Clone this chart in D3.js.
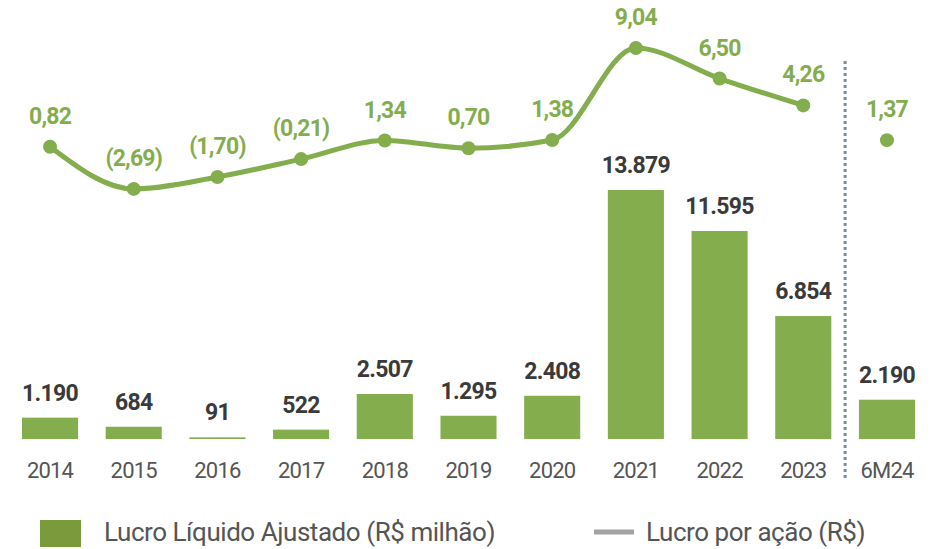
<!DOCTYPE html>
<html>
<head>
<meta charset="utf-8">
<script src="https://cdn.jsdelivr.net/npm/d3@7"></script>
<style>
  body { margin: 0; background: #fff; }
  text { font-family: Roboto, sans-serif; }
</style>
</head>
<body>
<script>
// categories + the two series
var periods = ['2014', '2015', '2016', '2017', '2018', '2019', '2020', '2021', '2022', '2023', '6M24'];
var lucroAjustado = [1190, 684, 91, 522, 2507, 1295, 2408, 13879, 11595, 6854, 2190];
var lucroPorAcao = [0.82, -2.69, -1.70, -0.21, 1.34, 0.70, 1.38, 9.04, 6.50, 4.26, 1.37];

var width = 936;
var height = 549;

var green = '#84ad4e';
var dark = '#3a3a3a';
var gray = '#555';

var svg = d3.select('body')
            .append('svg')
            .attr('width', width)
            .attr('height', height);

var x = d3.scaleBand()
          .domain(periods)
          .range([22, 915])
          .paddingInner(0.33)
          .paddingOuter(0.0);

// bars: baseline ~439, 13.879 reaches ~190
var yBar = d3.scaleLinear()
             .domain([0, 13879])
             .range([439, 190]);

// line: 0 at ~156.6, 12 px per real
var yLine = d3.scaleLinear()
              .domain([0, 9.04])
              .range([156.6, 48]);

var fmtBar = function(v) {
  return d3.format(',')(v).replace(/,/g, '.');
};
var fmtEps = function(v) {
  var s = Math.abs(v).toFixed(2).replace('.', ',');
  return v < 0 ? '(' + s + ')' : s;
};

var rows = periods.map(function(p, i) {
  return {'p': p, 'bar': lucroAjustado[i], 'eps': lucroPorAcao[i], 'i': i};
});

// bars
svg.selectAll('rect.bar')
   .data(rows)
   .enter()
   .append('rect')
   .attr('class', 'bar')
   .attr('x', function(d) { return x(d.p); })
   .attr('width', x.bandwidth())
   .attr('y', function(d) { return Math.min(yBar(d.bar), yBar(0) - 1.5); })
   .attr('height', function(d) { return Math.max(yBar(0) - yBar(d.bar), 1.5); })
   .attr('fill', green);

svg.selectAll('text.barlab')
   .data(rows)
   .enter()
   .append('text')
   .attr('class', 'barlab')
   .attr('x', function(d) { return x(d.p) + x.bandwidth() / 2; })
   .attr('y', function(d) { return Math.min(yBar(d.bar), yBar(0) - 1.5) - 17; })
   .attr('text-anchor', 'middle')
   .attr('font-size', 23)
   .attr('font-weight', 700)
   .attr('letter-spacing', -0.7)
   .attr('fill', dark)
   .text(function(d) { return fmtBar(d.bar); });

// x axis labels
var xAxis = d3.axisBottom(x).tickSize(0).tickPadding(0);
var gx = svg.append('g')
            .attr('transform', 'translate(0,' + 478 + ')')
            .call(xAxis);
gx.select('.domain').remove();
gx.selectAll('text')
  .attr('font-size', 22)
  .attr('letter-spacing', -0.8)
  .attr('fill', gray)
  .attr('dy', 0)
  .style('font-family', 'Roboto, sans-serif');

// separator before 6M24
var sepX = (x('2023') + x.bandwidth() + x('6M24')) / 2;
svg.append('line')
   .attr('x1', sepX).attr('x2', sepX)
   .attr('y1', 61).attr('y2', 480)
   .attr('stroke', '#7b8c9a')
   .attr('stroke-width', 3)
   .attr('stroke-dasharray', '3,3');

// EPS line, only full years
var cx = function(d) { return x(d.p) + x.bandwidth() / 2; };
var line = d3.line()
             .x(cx)
             .y(function(d) { return yLine(d.eps); })
             .curve(d3.curveMonotoneX);

svg.append('path')
   .datum(rows.slice(0, 10))
   .attr('d', line)
   .attr('fill', 'none')
   .attr('stroke', green)
   .attr('stroke-width', 5);

svg.selectAll('circle.pt')
   .data(rows)
   .enter()
   .append('circle')
   .attr('class', 'pt')
   .attr('cx', cx)
   .attr('cy', function(d) { return yLine(d.eps); })
   .attr('r', 7)
   .attr('fill', green);

svg.selectAll('text.epslab')
   .data(rows)
   .enter()
   .append('text')
   .attr('class', 'epslab')
   .attr('x', cx)
   .attr('y', function(d) { return yLine(d.eps) - 23; })
   .attr('text-anchor', 'middle')
   .attr('font-size', 23)
   .attr('font-weight', 700)
   .attr('letter-spacing', -0.8)
   .attr('fill', green)
   .text(function(d) { return fmtEps(d.eps); });

// legend
var legend = svg.append('g');
legend.append('rect')
      .attr('x', 40).attr('y', 520)
      .attr('width', 41).attr('height', 27)
      .attr('fill', '#7a9a3c');
legend.append('text')
      .attr('x', 104).attr('y', 541)
      .attr('font-size', 26)
      .attr('letter-spacing', -0.45)
      .attr('fill', gray)
      .text('Lucro Líquido Ajustado (R$ milhão)');
legend.append('line')
      .attr('x1', 594).attr('x2', 634)
      .attr('y1', 532).attr('y2', 532)
      .attr('stroke', '#a3a3a3')
      .attr('stroke-width', 5);
legend.append('text')
      .attr('x', 646).attr('y', 541)
      .attr('font-size', 26)
      .attr('letter-spacing', -0.45)
      .attr('fill', gray)
      .text('Lucro por ação (R$)');
</script>
</body>
</html>
